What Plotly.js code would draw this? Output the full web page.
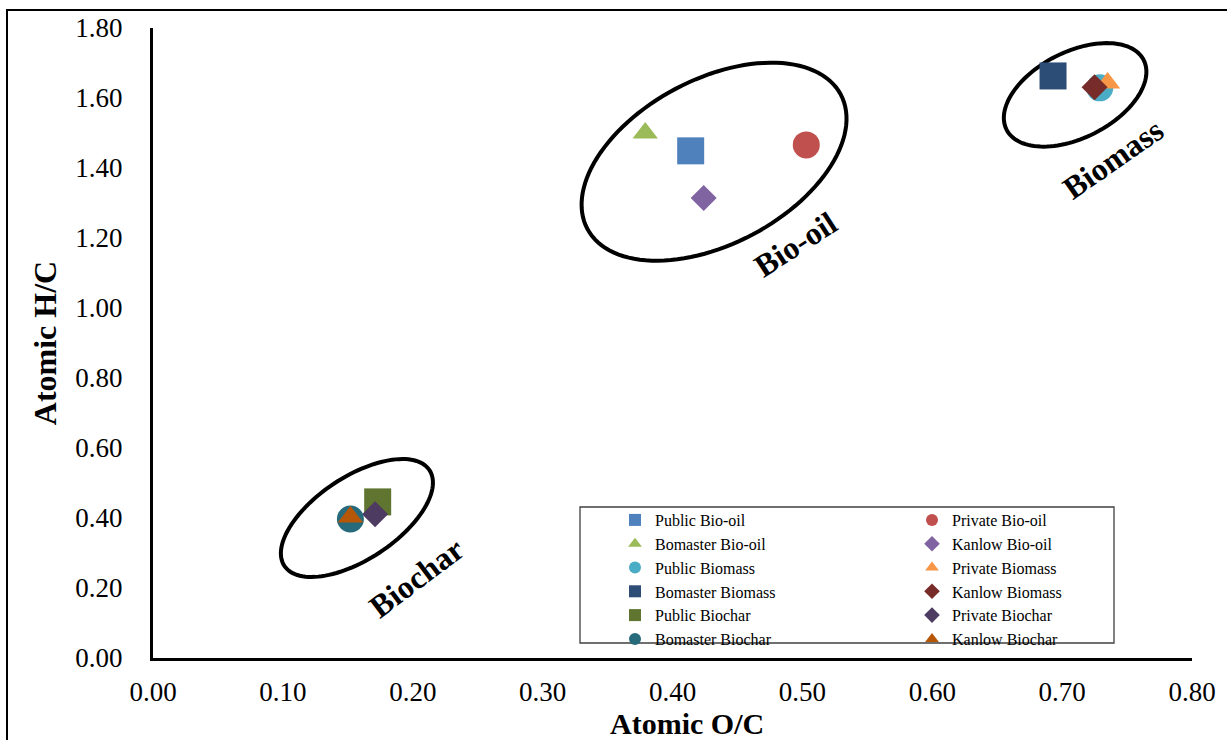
<!DOCTYPE html>
<html>
<head>
<meta charset="utf-8">
<script src="https://cdn.plot.ly/plotly-3.0.1.min.js"></script>
<style>
html,body{margin:0;padding:0;background:#ffffff;}
#chart{width:1227px;height:740px;}
</style>
</head>
<body>
<div id="chart"></div>
<script>
// ---- data ----
const seriesNames = [
  'Public Bio-oil', 'Private Bio-oil', 'Bomaster Bio-oil', 'Kanlow Bio-oil',
  'Public Biomass', 'Private Biomass', 'Bomaster Biomass', 'Kanlow Biomass',
  'Public Biochar', 'Private Biochar', 'Bomaster Biochar', 'Kanlow Biochar'
];
const atomicOC = [0.414, 0.503, 0.379, 0.424, 0.729, 0.735, 0.693, 0.725, 0.173, 0.171, 0.152, 0.152];
const atomicHC = [1.449, 1.466, 1.500, 1.314, 1.629, 1.643, 1.663, 1.631, 0.446, 0.411, 0.397, 0.403];
const seriesSymbols = ['square', 'circle', 'triangle-up', 'diamond',
                       'circle', 'triangle-up', 'square', 'diamond',
                       'square', 'diamond', 'circle', 'triangle-up'];
const seriesColors = ['#4F81BD', '#C0504D', '#9BBB59', '#8064A2',
                      '#4BACC6', '#F79646', '#2C4D75', '#772C2A',
                      '#5F7530', '#4D3B62', '#276A7C', '#B65708'];
const legendColumn = ['legend', 'legend2', 'legend', 'legend2',
                      'legend', 'legend2', 'legend', 'legend2',
                      'legend', 'legend2', 'legend', 'legend2'];

const xTickVals = [0, 0.1, 0.2, 0.3, 0.4, 0.5, 0.6, 0.7, 0.8];
const xTickText = ['0.00', '0.10', '0.20', '0.30', '0.40', '0.50', '0.60', '0.70', '0.80'];
const yTickVals = [0, 0.2, 0.4, 0.6, 0.8, 1.0, 1.2, 1.4, 1.6, 1.8];
const yTickText = ['0.00', '0.20', '0.40', '0.60', '0.80', '1.00', '1.20', '1.40', '1.60', '1.80'];
const xTitle = 'Atomic O/C';
const yTitle = 'Atomic H/C';

// group outlines and labels
const groupNames = ['Bio-oil', 'Biomass', 'Biochar'];
const groupCenterOC = [0.432, 0.710, 0.157];
const groupCenterHC = [1.418, 1.609, 0.400];
const groupLabelOC = [0.495, 0.739, 0.2025];
const groupLabelHC = [1.183, 1.426, 0.230];

// ---- styling / layout ----
const FONT = '"Liberation Serif", "Times New Roman", Times, serif';
const W = 1227, H = 740;
const M = {l: 153, r: 35, t: 28, b: 82};
const xRange = [0, 0.8], yRange = [0, 1.8];
const kx = (W - M.l - M.r) / (xRange[1] - xRange[0]);   // px per unit
const ky = (H - M.t - M.b) / (yRange[1] - yRange[0]);

const symbolSize = {'square': 27, 'circle': 27, 'triangle-up': 22, 'diamond': 20};

const traces = seriesNames.map((name, i) => ({
  type: 'scatter',
  mode: 'markers',
  name: name,
  x: [atomicOC[i]],
  y: [atomicHC[i]],
  legend: legendColumn[i],
  marker: {
    symbol: seriesSymbols[i],
    color: seriesColors[i],
    size: symbolSize[seriesSymbols[i]],
    line: {width: 0}
  },
  cliponaxis: false,
  hoverinfo: 'x+y+name'
}));

// ellipse geometry in pixels: semi-axes and tilt (degrees)
const ellipseA = [143.4, 76.9, 86.9];
const ellipseB = [82.4, 43.0, 41.3];
const ellipseTilt = [27.9, 26.9, 33.4];
const labelAngle = [-33, -35, -37];

function ellipsePath(cx, cy, a, b, deg) {
  const th = deg * Math.PI / 180;
  const n = 120;
  let p = '';
  for (let k = 0; k <= n; k++) {
    const t = 2 * Math.PI * k / n;
    const dx = a * Math.cos(t) * Math.cos(th) - b * Math.sin(t) * Math.sin(th);
    const dy = a * Math.cos(t) * Math.sin(th) + b * Math.sin(t) * Math.cos(th);
    const x = cx + dx / kx, y = cy + dy / ky;
    p += (k === 0 ? 'M' : 'L') + x.toFixed(5) + ',' + y.toFixed(5);
  }
  return p + 'Z';
}

const shapes = [];
groupNames.forEach((g, i) => {
  shapes.push({
    type: 'path', xref: 'x', yref: 'y',
    path: ellipsePath(groupCenterOC[i], groupCenterHC[i], ellipseA[i], ellipseB[i], ellipseTilt[i]),
    line: {color: '#000000', width: 4},
    fillcolor: 'rgba(0,0,0,0)',
    layer: 'below'
  });
});
// legend box
const pw = W - M.l - M.r, ph = H - M.t - M.b;
const px2x = px => (px - M.l) / pw;
const py2y = py => (H - M.b - py) / ph;
shapes.push({
  type: 'rect', xref: 'paper', yref: 'paper',
  x0: px2x(580), x1: px2x(1114), y0: py2y(643), y1: py2y(507),
  line: {color: '#404040', width: 1.3}, fillcolor: '#ffffff', layer: 'below'
});
// outer frame
shapes.push({
  type: 'rect', xref: 'paper', yref: 'paper',
  x0: px2x(7), x1: px2x(1240), y0: py2y(760), y1: py2y(10),
  line: {color: '#000000', width: 2}, fillcolor: 'rgba(0,0,0,0)', layer: 'below'
});

const annotations = groupNames.map((g, i) => ({
  xref: 'x', yref: 'y', x: groupLabelOC[i], y: groupLabelHC[i],
  text: '<b>' + g + '</b>', showarrow: false, textangle: labelAngle[i],
  font: {family: FONT, size: 32, color: '#000000'}
}));
// x-axis title (annotation so it can sit near the bottom edge like the original)
annotations.push({
  xref: 'paper', yref: 'paper', x: px2x(687), y: py2y(739.5),
  xanchor: 'center', yanchor: 'bottom', borderpad: 0, borderwidth: 0,
  text: '<b>' + xTitle + '</b>', showarrow: false,
  font: {family: FONT, size: 30, color: '#000000'}
});

const legendCommon = {
  yanchor: 'top', xanchor: 'left',
  bgcolor: 'rgba(0,0,0,0)', borderwidth: 0,
  font: {family: FONT, size: 16, color: '#000000'},
  itemsizing: 'constant', tracegroupgap: 0, orientation: 'v'
};

const layout = {
  width: W, height: H,
  margin: M,
  paper_bgcolor: '#ffffff', plot_bgcolor: '#ffffff',
  font: {family: FONT, color: '#000000'},
  showlegend: true,
  legend: Object.assign({x: px2x(615), y: py2y(503)}, legendCommon),
  legend2: Object.assign({x: px2x(912), y: py2y(503)}, legendCommon),
  xaxis: {
    range: xRange, tickvals: xTickVals, ticktext: xTickText,
    showgrid: false, zeroline: false, showline: true, linecolor: '#000000', linewidth: 3,
    ticks: '', ticklabelstandoff: 8,
    tickfont: {family: FONT, size: 27, color: '#000000'},
    fixedrange: true
  },
  yaxis: {
    range: yRange, tickvals: yTickVals, ticktext: yTickText,
    showgrid: false, zeroline: false, showline: true, linecolor: '#000000', linewidth: 3,
    ticks: '', ticklabelstandoff: 22,
    tickfont: {family: FONT, size: 27, color: '#000000'},
    title: {text: '<b>' + yTitle + '</b>', font: {family: FONT, size: 32, color: '#000000'}, standoff: 10},
    fixedrange: true
  },
  shapes: shapes,
  annotations: annotations
};

Plotly.newPlot('chart', traces, layout, {displayModeBar: false, responsive: false});
</script>
</body>
</html>
